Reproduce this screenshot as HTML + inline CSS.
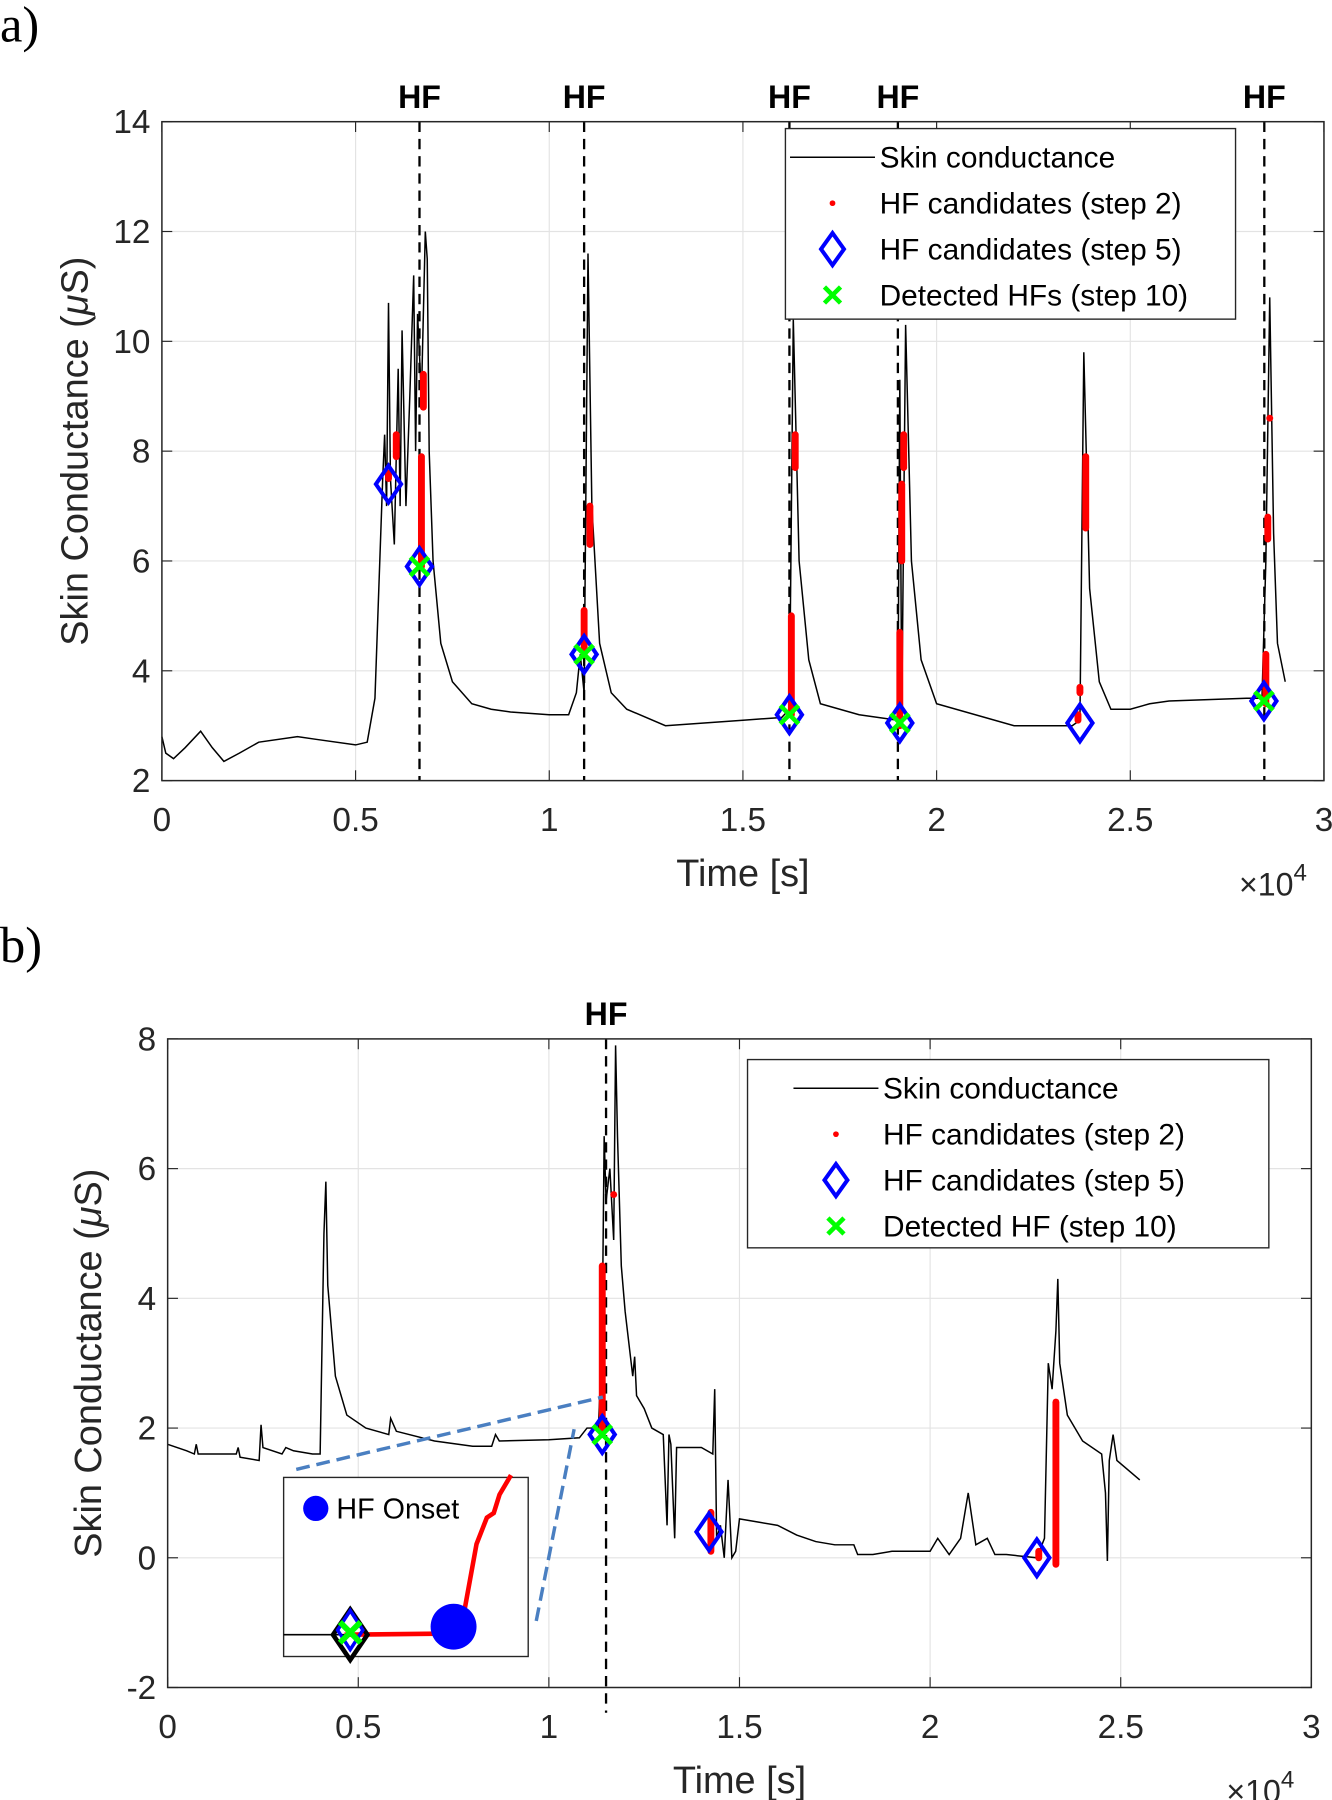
<!DOCTYPE html>
<html><head><meta charset="utf-8"><style>
html,body{margin:0;padding:0;background:#fff}
svg{display:block}
text{font-family:"Liberation Sans",sans-serif}
</style></head><body>
<svg id="fig" width="1332" height="1800" viewBox="0 0 1160 1568" preserveAspectRatio="none" xmlns="http://www.w3.org/2000/svg">
<text x="0" y="36" font-family="Liberation Serif" font-size="44" style="font-family:'Liberation Serif',serif">a)</text>
<text x="0" y="838" font-family="Liberation Serif" font-size="44" style="font-family:'Liberation Serif',serif">b)</text>
<g id="ga"></g>
<g id="gb"></g>
</svg>
<script>
// ---- Panel a data ----
const aTime=[0,0.01,0.03,0.06,0.1,0.11,0.13,0.16,0.2,0.25,0.35,0.4,0.5,0.53,0.55,0.56,0.57,0.575,0.58,0.585,0.59,0.6,0.61,0.615,0.62,0.63,0.64,0.65,0.655,0.66,0.67,0.68,0.685,0.69,0.7,0.72,0.75,0.8,0.85,0.9,1.0,1.05,1.07,1.08,1.09,1.1,1.11,1.13,1.16,1.2,1.3,1.4,1.5,1.6,1.62,1.63,1.645,1.67,1.7,1.8,1.9,1.905,1.91,1.92,1.935,1.96,2.0,2.2,2.35,2.37,2.38,2.395,2.42,2.45,2.5,2.55,2.6,2.8,2.84,2.85,2.86,2.87,2.88,2.9];
const aSC=[2.8,2.5,2.4,2.6,2.9,2.8,2.6,2.35,2.5,2.7,2.8,2.75,2.65,2.7,3.5,5.5,7.5,8.3,7.0,10.7,7.5,6.3,9.5,7,10.2,7.0,9,11.2,8,10.5,9,12,11.5,8,6,4.5,3.8,3.4,3.3,3.25,3.2,3.2,3.6,4.3,3.6,11.6,7,4.5,3.6,3.3,3.0,3.05,3.1,3.15,3.3,10.4,6,4.2,3.4,3.2,3.1,9.3,3.2,10.3,6,4.2,3.4,3.0,3.0,3.1,9.8,5.5,3.8,3.3,3.3,3.4,3.45,3.5,3.5,6,10.8,6.5,4.5,3.8];
const aRedT=[0.585,0.605,0.67,0.675,1.09,1.105,1.625,1.635,1.905,1.91,1.915,2.365,2.37,2.385,2.85,2.855,2.86];
const aRedLo=[7.5,7.9,5.9,8.8,4.3,6.3,3.2,7.7,3.0,6.0,7.7,3.1,3.6,6.6,3.4,6.4,8.6];
const aRedHi=[7.6,8.3,7.9,9.4,5.1,7.0,5.0,8.3,4.7,7.4,8.3,3.2,3.7,7.9,4.3,6.8,8.6];
const aDiaT=[0.585,0.665,1.09,1.62,1.905,2.37,2.845];
const aDiaV=[7.4,5.9,4.3,3.2,3.05,3.05,3.45];
const aDetT=[0.665,1.09,1.62,1.905,2.845];
const aDetV=[5.9,4.3,3.2,3.05,3.45];
const aHF=[0.665,1.09,1.62,1.9,2.846];
const aYTicks=[2,4,6,8,10,12,14];
const xTickLabels=["0","0.5","1","1.5","2","2.5","3"];
const xTicks=[0,0.5,1,1.5,2,2.5,3];
const aLegend=["Skin conductance","HF candidates (step 2)","HF candidates (step 5)","Detected HFs (step 10)"];
// ---- Panel b data ----
const bTime=[0,0.05,0.07,0.075,0.08,0.18,0.185,0.19,0.24,0.245,0.25,0.3,0.31,0.33,0.38,0.4,0.41,0.415,0.42,0.44,0.47,0.52,0.58,0.585,0.6,0.7,0.8,0.85,0.86,0.87,1.0,1.08,1.1,1.13,1.14,1.145,1.15,1.16,1.17,1.175,1.18,1.19,1.2,1.22,1.225,1.23,1.25,1.27,1.3,1.31,1.315,1.32,1.33,1.335,1.4,1.43,1.435,1.44,1.45,1.46,1.47,1.48,1.49,1.5,1.55,1.6,1.65,1.7,1.75,1.8,1.81,1.85,1.9,2.0,2.02,2.05,2.08,2.1,2.12,2.15,2.17,2.2,2.28,2.3,2.31,2.32,2.33,2.335,2.34,2.36,2.4,2.45,2.46,2.465,2.47,2.48,2.49,2.55];
const bSC=[1.75,1.65,1.6,1.75,1.6,1.6,1.7,1.55,1.5,2.05,1.7,1.6,1.7,1.65,1.6,1.6,5.0,5.8,4.2,2.8,2.2,2.0,1.9,2.15,1.95,1.8,1.72,1.72,1.9,1.8,1.82,1.85,2.0,2.0,3.5,6.5,5.5,6.0,4.9,7.9,6.5,4.5,3.8,2.8,3.1,2.5,2.3,2.0,1.9,0.5,1.9,1.75,0.3,1.7,1.7,1.6,2.6,0.3,0.5,0.0,1.2,0.0,0.1,0.6,0.55,0.5,0.35,0.25,0.2,0.2,0.05,0.05,0.1,0.1,0.3,0.05,0.3,1.0,0.2,0.3,0.05,0.05,0.0,0.3,3.0,2.6,3.5,4.3,3.0,2.2,1.8,1.6,1.0,-0.05,1.5,1.9,1.5,1.2];
const bRedT=[1.14,1.17,1.425,2.285,2.33];
const bRedLo=[1.9,5.6,0.1,0.0,-0.1];
const bRedHi=[4.5,5.6,0.7,0.1,2.4];
const bDiaT=[1.14,1.42,2.28];
const bDiaV=[1.9,0.4,0.0];
const bDetT=[1.14];
const bDetV=[1.9];
const bHF=[1.15];
const bYTicks=[-2,0,2,4,6,8];
const bLegend=["Skin conductance","HF candidates (step 2)","HF candidates (step 5)","Detected HF (step 10)"];

const NS="http://www.w3.org/2000/svg";
function mk(parent,tag,attrs,txt){const e=document.createElementNS(NS,tag);for(const k in attrs)e.setAttribute(k,attrs[k]);if(txt!==undefined)e.textContent=txt;parent.appendChild(e);return e;}

function panel(g,cfg){
  const L=cfg.L,R=cfg.R,T=cfg.T,B=cfg.B;
  const sx=t=>L+(t-0)/3*(R-L);
  const sy=v=>B-(v-cfg.ymin)/(cfg.ymax-cfg.ymin)*(B-T);
  mk(g,'rect',{x:L,y:T,width:R-L,height:B-T,fill:'#fff'});
  xTicks.forEach((t,i)=>{
    const l=mk(g,'line',{x1:sx(t),x2:sx(t),y1:T,y2:B,stroke:'#e3e3e3','stroke-width':1});
    
    
    const tx=mk(g,'text',{x:sx(t),y:B+44,'font-size':29,'text-anchor':'middle',fill:'#262626'},xTickLabels[i]);
    
    
    mk(g,'line',{x1:sx(t),x2:sx(t),y1:B,y2:B-9,stroke:'#262626','stroke-width':1});
    mk(g,'line',{x1:sx(t),x2:sx(t),y1:T,y2:T+9,stroke:'#262626','stroke-width':1});
  });
  cfg.yt.forEach(v=>{
    const l=mk(g,'line',{x1:L,x2:R,y1:sy(v),y2:sy(v),stroke:'#e3e3e3','stroke-width':1});
    
    
    const tx=mk(g,'text',{x:L-10,y:sy(v)+10,'font-size':29,'text-anchor':'end',fill:'#262626'},String(v));
    
    
    mk(g,'line',{x1:L,x2:L+9,y1:sy(v),y2:sy(v),stroke:'#262626','stroke-width':1});
    mk(g,'line',{x1:R,x2:R-9,y1:sy(v),y2:sy(v),stroke:'#262626','stroke-width':1});
  });
  const pts=cfg.t.map((t,i)=>sx(t)+','+sy(cfg.v[i])).join(' ');
  const pl=mk(g,'polyline',{points:pts,fill:'none',stroke:'#000','stroke-width':1.3});
  
  
  cfg.hf.forEach(t=>{
    const l=mk(g,'line',{x1:sx(t),x2:sx(t),y1:T,y2:B+(cfg.hfExt||0),stroke:'#000','stroke-width':2,'stroke-dasharray':'9,6'});
    
    
    const tx=mk(g,'text',{x:sx(t),y:T-12,'font-size':28,'font-weight':'bold','text-anchor':'middle'},'HF');
    
    
  });
  cfg.rt.forEach((t,i)=>{
    const l=mk(g,'line',{x1:sx(t),x2:sx(t),y1:sy(cfg.rlo[i]),y2:sy(cfg.rhi[i]),stroke:'#ff0000','stroke-width':6,'stroke-linecap':'round'});
    
    
  });
  cfg.dt.forEach((t,i)=>{
    const x=sx(t),y=sy(cfg.dv[i]);
    const p=mk(g,'path',{d:`M${x} ${y-16}L${x+11} ${y}L${x} ${y+16}L${x-11} ${y}Z`,fill:'none',stroke:'#0000ff','stroke-width':3.5});
    
    
  });
  cfg.gt.forEach((t,i)=>{
    const x=sx(t),y=sy(cfg.gv[i]);
    const p=mk(g,'path',{d:`M${x-8} ${y-8}L${x+8} ${y+8}M${x+8} ${y-8}L${x-8} ${y+8}`,stroke:'#00ff00','stroke-width':4});
    
    
  });
  const fr=mk(g,'rect',{x:L,y:T,width:R-L,height:B-T,fill:'none',stroke:'#262626','stroke-width':1.3});
  
  
  const xt=mk(g,'text',{x:(L+R)/2,y:B+92,'font-size':33,'text-anchor':'middle',fill:'#262626'},'Time [s]');
  
  
  const ex=mk(g,'text',{x:R-74,y:B+100,'font-size':28,fill:'#262626'});
  
  
  ex.innerHTML='×10<tspan dy="-13" font-size="21">4</tspan>';
  const yt=mk(g,'text',{x:0,y:0,'font-size':33,'text-anchor':'middle',fill:'#262626',transform:`translate(${cfg.ytx},${(T+B)/2}) rotate(-90)`});
  
  
  yt.innerHTML='Skin Conductance (<tspan font-style="italic">μ</tspan>S)';
  const lg=cfg.lg;
  const box=mk(g,'rect',{x:lg.x,y:lg.y,width:lg.w,height:lg.h,fill:'#fff',stroke:'#262626','stroke-width':1.2});
  
  
  cfg.leg.forEach((s,i)=>{
    const cy=lg.y+25+i*40, mx=lg.tx-41;
    if(i===0) mk(g,'line',{x1:lg.tx-78,x2:lg.tx-4,y1:cy,y2:cy,stroke:'#000','stroke-width':1.3});
    if(i===1) mk(g,'circle',{cx:mx,cy:cy,r:2.5,fill:'#ff0000'});
    if(i===2) mk(g,'path',{d:`M${mx} ${cy-14}L${mx+10} ${cy}L${mx} ${cy+14}L${mx-10} ${cy}Z`,fill:'none',stroke:'#0000ff','stroke-width':3.5});
    if(i===3) mk(g,'path',{d:`M${mx-7} ${cy-7}L${mx+7} ${cy+7}M${mx+7} ${cy-7}L${mx-7} ${cy+7}`,stroke:'#00ff00','stroke-width':4});
    const tx=mk(g,'text',{x:lg.tx,y:cy+9,'font-size':26,fill:'#000'},s);
    
    
  });
}
panel(document.getElementById('ga'),{L:141,R:1153,T:106,B:680,ymin:2,ymax:14,yt:aYTicks,t:aTime,v:aSC,rt:aRedT,rlo:aRedLo,rhi:aRedHi,dt:aDiaT,dv:aDiaV,gt:aDetT,gv:aDetV,hf:aHF,ytx:76,lg:{x:684,y:112,w:392,h:166,tx:766},leg:aLegend});
panel(document.getElementById('gb'),{L:146,R:1142,T:905,B:1470,ymin:-2,ymax:8,yt:bYTicks,t:bTime,v:bSC,rt:bRedT,rlo:bRedLo,rhi:bRedHi,dt:bDiaT,dv:bDiaV,gt:bDetT,gv:bDetV,hf:bHF,hfExt:22,ytx:88,lg:{x:651,y:923,w:454,h:164,tx:769},leg:bLegend});
const gb=document.getElementById('gb');
const ins=mk(gb,'g',{});


mk(ins,'line',{x1:258,y1:1280,x2:525,y2:1217,stroke:'#4a7fc1','stroke-width':3,'stroke-dasharray':'12,6'});
mk(ins,'line',{x1:467,y1:1412,x2:500,y2:1245,stroke:'#4a7fc1','stroke-width':3,'stroke-dasharray':'12,6'});
mk(ins,'rect',{x:247,y:1287,width:213,height:156,fill:'#fff',stroke:'#262626','stroke-width':1.2});
mk(ins,'line',{x1:247,y1:1424,x2:300,y2:1424,stroke:'#000','stroke-width':1.5});
mk(ins,'polyline',{points:'300,1424 390,1423 405,1400 415,1345 424,1322 430,1318 435,1302 445,1285',fill:'none',stroke:'#ff0000','stroke-width':4});
mk(ins,'circle',{cx:395,cy:1417,r:20,fill:'#0000ff'});
mk(ins,'path',{d:'M305 1402L320 1424L305 1446L290 1424Z',fill:'none',stroke:'#000','stroke-width':4});
mk(ins,'path',{d:'M305 1403L316 1420L305 1437L294 1420Z',fill:'none',stroke:'#0000ff','stroke-width':3});
mk(ins,'path',{d:'M296 1413L314 1431M314 1413L296 1431',stroke:'#00ff00','stroke-width':5});
mk(ins,'circle',{cx:275,cy:1314,r:11,fill:'#0000ff'});
const it=mk(ins,'text',{x:293,y:1323,'font-size':25,fill:'#000'},'HF Onset');


</script>
</body></html>
